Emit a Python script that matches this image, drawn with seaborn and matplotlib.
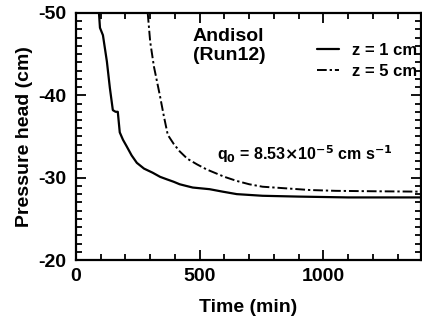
import matplotlib
matplotlib.use("Agg")
import matplotlib.pyplot as plt
import seaborn as sns
from matplotlib.ticker import MultipleLocator

# z = 1 cm (solid)
time_z1 = [93, 97, 109, 125, 137, 149, 160, 169, 177, 190, 205, 225, 246, 275, 310, 340,
           367, 395, 419, 445, 472, 540, 593, 650, 754, 900, 1100, 1400]
head_z1 = [-50.0, -48.2, -47.3, -44.1, -40.9, -38.2, -38.0, -38.0, -35.5, -34.6, -33.8,
           -32.7, -31.8, -31.1, -30.6, -30.1, -29.8, -29.5, -29.2, -29.0, -28.8, -28.6,
           -28.3, -28.0, -27.8, -27.7, -27.6, -27.6]

# z = 5 cm (dash-dot)
time_z5 = [290, 300, 315, 339, 355, 371, 395, 419, 450, 490, 528, 552, 600, 650, 700,
           754, 850, 944, 1050, 1200, 1400]
head_z5 = [-50.0, -46.5, -43.5, -40.0, -37.5, -35.2, -34.1, -33.2, -32.3, -31.6, -31.0,
           -30.7, -30.1, -29.6, -29.2, -28.9, -28.7, -28.5, -28.4, -28.35, -28.3]

labels = ["z = 1 cm", "z = 5 cm"]
x_ticks = [0, 500, 1000]
y_ticks = [-50, -40, -30, -20]

sns.set_style("ticks")
plt.rcParams["font.family"] = ["Liberation Sans", "DejaVu Sans"]
plt.rcParams["font.weight"] = "bold"
plt.rcParams["text.color"] = "black"
plt.rcParams["axes.labelcolor"] = "black"
plt.rcParams["axes.unicode_minus"] = False
plt.rcParams["mathtext.default"] = "bf"

fig = plt.figure(figsize=(4.22, 3.24), dpi=100)
ax = fig.add_axes([0.180, 0.1975, 0.818, 0.7625])

sns.lineplot(x=time_z1, y=head_z1, ax=ax, color="black", lw=1.6, sort=False,
             label=labels[0])
sns.lineplot(x=time_z5, y=head_z5, ax=ax, color="black", lw=1.4, sort=False,
             label=labels[1], linestyle=(0, (5, 1.5, 1.2, 1.5)))

ax.set_xlim(0, 1395)
ax.set_ylim(-20, -50)
ax.set_xticks(x_ticks)
ax.set_yticks(y_ticks)
ax.xaxis.set_minor_locator(MultipleLocator(100))
ax.yaxis.set_minor_locator(MultipleLocator(1))
ax.tick_params(which="both", direction="in", top=True, right=True, width=1.3,
               colors="black")
ax.tick_params(which="major", length=7, labelsize=14)
ax.tick_params(axis="y", which="major", pad=7)
ax.tick_params(axis="x", which="major", pad=6)
ax.tick_params(which="minor", length=4)
for lab in ax.get_xticklabels() + ax.get_yticklabels():
    lab.set_fontweight("bold")
for sp in ax.spines.values():
    sp.set_linewidth(1.6)
    sp.set_color("black")

ax.set_xlabel("Time (min)", fontsize=14, fontweight="bold", labelpad=10)
ax.set_ylabel("Pressure head (cm)", fontsize=14, fontweight="bold", labelpad=4)

ax.text(0.338, 0.94, "Andisol\n(Run12)", transform=ax.transAxes, fontsize=14,
        fontweight="bold", va="top", ha="left", linespacing=1.2)
ax.text(0.41, 0.405, r"q$_0$ = 8.53$\times$10$^{-5}$ cm s$^{-1}$",
        transform=ax.transAxes, fontsize=11.5, fontweight="bold", va="baseline")

leg = ax.legend(loc="upper left", bbox_to_anchor=(0.68, 0.905), frameon=False,
                handlelength=1.3, handletextpad=0.8, labelspacing=0.35,
                prop={"size": 12, "weight": "bold"}, borderaxespad=0)

fig.savefig("out.png", dpi=100)
